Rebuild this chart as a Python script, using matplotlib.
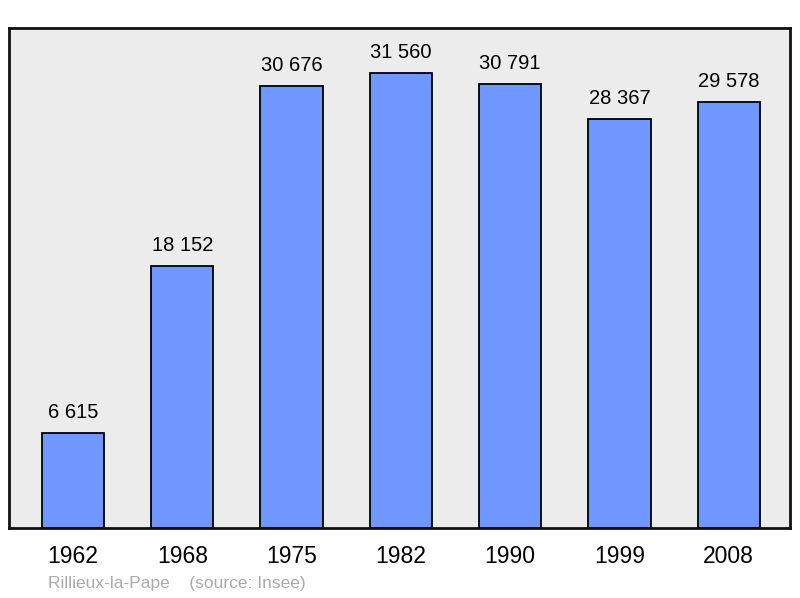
import matplotlib.pyplot as plt

years = ['1962', '1968', '1975', '1982', '1990', '1999', '2008']
population = [6615, 18152, 30676, 31560, 30791, 28367, 29578]
labels = ['6 615', '18 152', '30 676', '31 560', '30 791', '28 367', '29 578']

plt.rcParams['font.family'] = ['Liberation Sans', 'DejaVu Sans']

fig = plt.figure(figsize=(8, 5.98), dpi=100)
ax = fig.add_axes([0.01125, 0.117, 0.97625, 0.836])
ax.set_facecolor('#ececec')

x = range(len(years))
bars = ax.bar(x, population, width=0.57, color='#7096ff', edgecolor='black', linewidth=1.3, zorder=2)

for b, lab in zip(bars, labels):
    ax.annotate(lab, (b.get_x() + b.get_width() / 2, b.get_height()),
                xytext=(0, 8), textcoords='offset points',
                ha='center', va='bottom', fontsize=14.5, color='black')

ax.set_xlim(-0.585, 6.56)
ax.set_ylim(0, 34680)
ax.set_xticks(list(x))
ax.set_xticklabels(years, fontsize=16.5)
ax.tick_params(axis='x', length=0, pad=12)
ax.set_yticks([])
for s in ax.spines.values():
    s.set_linewidth(2)
    s.set_color('#111111')

fig.text(0.06, 0.016, 'Rillieux-la-Pape    (source: Insee)', fontsize=12.5, color='#aaaaaa')

fig.savefig('out.png', dpi=100)
